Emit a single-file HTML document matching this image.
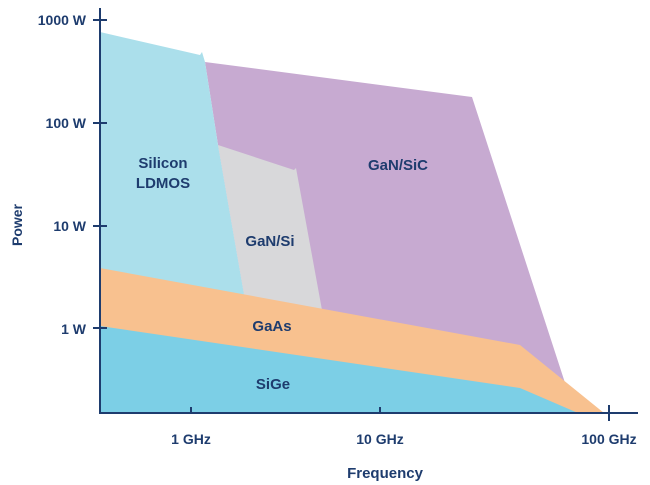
<!DOCTYPE html>
<html><head><meta charset="utf-8"><style>
html,body{margin:0;padding:0;background:#fff;}
svg{display:block;}
text{font-family:"Liberation Sans",Arial,sans-serif;font-weight:bold;fill:#1e3c6e;}
</style></head><body>
<svg width="650" height="485" viewBox="0 0 650 485" xmlns="http://www.w3.org/2000/svg">
<polygon points="205,62 472,97 568,392 568,413 245,413 245,300 218,145" fill="#c7aad1"/>
<polygon points="100,32 200,55 202,52 205,62 218,145 245,300 245,413 100,413" fill="#abdfeb"/>
<polygon points="218,145 294,170 296,168 322,310 245,300" fill="#d8d8da"/>
<polygon points="100,268 520,345 604,413 100,413" fill="#f8c18f"/>
<polygon points="100,326 520,388 578,413 100,413" fill="#7ccfe6"/>
<g stroke="#1e3c6e" stroke-width="2" fill="none">
<line x1="100" y1="8" x2="100" y2="414"/>
<line x1="99" y1="413" x2="638" y2="413"/>
<line x1="93" y1="20" x2="107" y2="20"/>
<line x1="93" y1="123" x2="107" y2="123"/>
<line x1="93" y1="226" x2="107" y2="226"/>
<line x1="93" y1="328" x2="107" y2="328"/>
<line x1="191" y1="407" x2="191" y2="413"/>
<line x1="380" y1="407" x2="380" y2="413"/>
<line x1="609" y1="405" x2="609" y2="421"/>
</g>
<g font-size="14" text-anchor="end">
<text x="86" y="25">1000 W</text>
<text x="86" y="128">100 W</text>
<text x="86" y="231">10 W</text>
<text x="86" y="334">1 W</text>
</g>
<g font-size="14" text-anchor="middle">
<text x="191" y="444">1 GHz</text>
<text x="380" y="444">10 GHz</text>
<text x="609" y="444">100 GHz</text>
<text x="385" y="478" font-size="15">Frequency</text>
<text x="163" y="168" font-size="15">Silicon</text>
<text x="163" y="188" font-size="15">LDMOS</text>
<text x="270" y="246" font-size="15">GaN/Si</text>
<text x="398" y="170" font-size="15">GaN/SiC</text>
<text x="272" y="331" font-size="15">GaAs</text>
<text x="273" y="389" font-size="15">SiGe</text>
</g>
<text x="22" y="225" font-size="14" text-anchor="middle" transform="rotate(-90 22 225)">Power</text>
</svg>
</body></html>
